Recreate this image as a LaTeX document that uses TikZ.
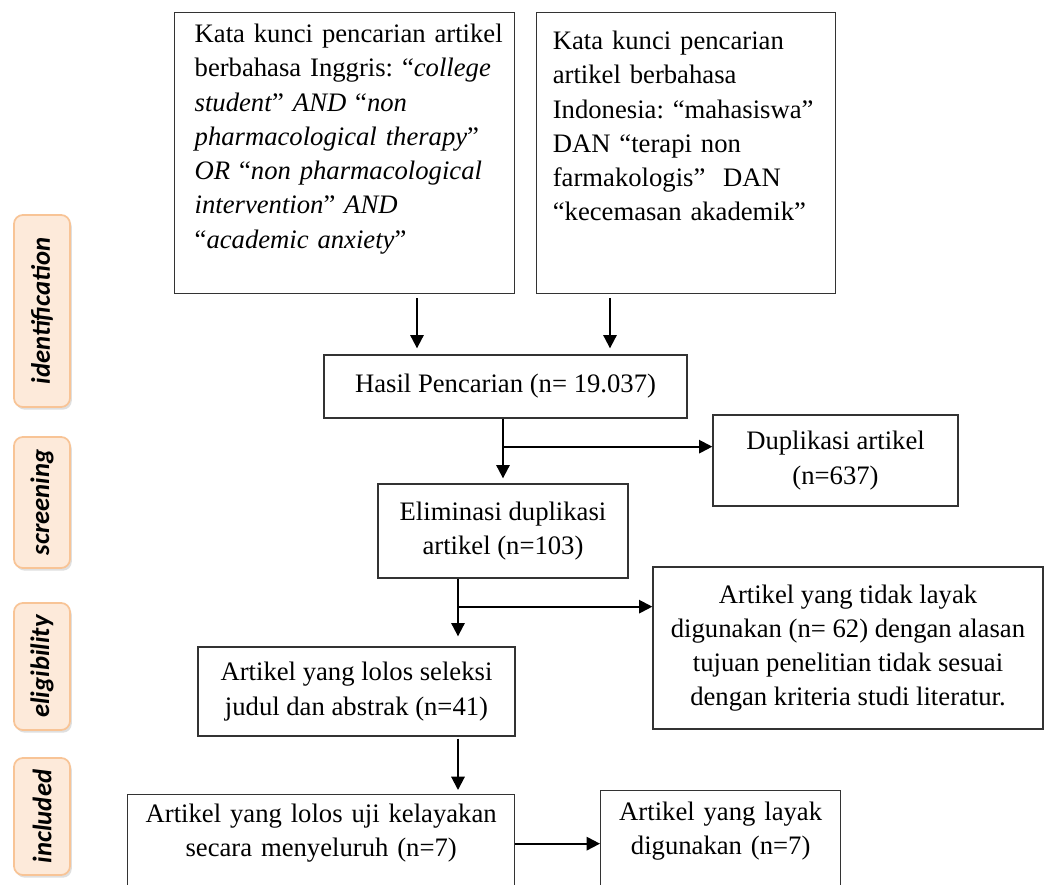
\documentclass[tikz,border=0pt]{standalone}
\usepackage{fontspec}
\setmainfont{Liberation Serif}
\newfontfamily\phasefont{Carlito}
\usetikzlibrary{positioning,arrows.meta,shadows}
\definecolor{phaseline}{RGB}{248,196,150}
\definecolor{phasefill}{RGB}{253,234,218}
\frenchspacing

\begin{document}
\begin{tikzpicture}[
  x=0.45pt, y=-0.45pt,
  box/.style={draw=black!80, line width=0.6pt, inner sep=0pt, align=center,
    font=\fontsize{12pt}{15.4pt}\selectfont},
  kbox/.style={box, anchor=north west, align=left},
  phase/.style={draw=phaseline, fill=phasefill, line width=0.8pt,
    rounded corners=4pt, rotate=90, minimum height=25.2pt, inner sep=0pt,
    font=\phasefont\bfseries\itshape\fontsize{12pt}{14pt}\selectfont,
    drop shadow={shadow xshift=0.8pt, shadow yshift=-1.2pt, opacity=0.25}},
  arr/.style={->, line width=0.9pt},
  >={Triangle[length=6pt,width=6pt]}
]
\useasboundingbox (0,0) rectangle (1046,885);

% PRISMA phases on the left
\node[phase, minimum width=86.4pt] (pid) at (42,311) {identification};
\node[phase, minimum width=58.95pt] (pscr) at (42,502.5) {screening};
\node[phase, minimum width=57.15pt] (pel) at (42,666.5) {eligibility};
\node[phase, minimum width=52.65pt] (pinc) at (42,816.5) {included};

% Search keywords
\node[kbox, text width=135pt, inner xsep=9pt, text height=13.5pt, text depth=112.95pt]
  (kwen) at (174,12)
  {\mbox{Kata kunci pencarian artikel}\\ berbahasa Inggris: ``\textit{college}\\
   \textit{student}'' \textit{AND} ``\textit{non}\\ \textit{pharmacological therapy}''\\
   \textit{OR} ``\textit{non pharmacological}\\ \textit{intervention}'' \textit{AND}\\
   ``\textit{academic anxiety}''};
\node[kbox, text width=120pt, inner xsep=7.275pt, text height=16.65pt, text depth=109.8pt]
  (kwid) at (536,12)
  {Kata kunci pencarian\\ artikel berbahasa\\ Indonesia: ``mahasiswa''\\
   DAN ``terapi non\\ farmakologis''~\ DAN\\ ``kecemasan akademik''};

% Flow boxes
\node[box, minimum width=163.35pt, minimum height=28.35pt] (hasil) at (505.5,386.5)
  {Hasil Pencarian (n= 19.037)};
\node[box, minimum width=110.25pt, minimum height=40.95pt] (dup) at (835.5,460.5)
  {Duplikasi artikel\\ (n=637)};
\node[box, minimum width=112.5pt, minimum height=42.3pt] (elim) at (503,531)
  {Eliminasi duplikasi\\ artikel (n=103)};
\node[box, minimum width=175.5pt, minimum height=72.9pt] (tdk) at (848,648)
  {Artikel yang tidak layak\\ digunakan (n= 62) dengan alasan\\
   tujuan penelitian tidak sesuai\\ dengan kriteria studi literatur.};
\node[box, minimum width=142.65pt, minimum height=40.05pt] (lolos) at (356.5,691.5)
  {Artikel yang lolos seleksi\\ judul dan abstrak (n=41)};
\node[kbox, align=center, text width=162pt, inner xsep=6.075pt, text height=12.6pt,
  text depth=37.35pt] (uji) at (127,794)
  {Artikel yang lolos uji kelayakan\\ secara menyeluruh (n=7)};
\node[kbox, align=center, text width=97.2pt, inner xsep=5.4pt, text height=13.5pt,
  text depth=38.25pt] (layak) at (600,790)
  {Artikel yang layak\\ digunakan (n=7)};

% Connectors
\coordinate (inA) at ([shift={(-88.5,0)}]hasil.north);
\coordinate (inB) at ([shift={(104.5,0)}]hasil.north);
\draw[arr, shorten <=1.8pt, shorten >=2.7pt] (kwen.south -| inA) -- (inA);
\draw[arr, shorten <=1.8pt, shorten >=2.7pt] (kwid.south -| inB) -- (inB);

\path (hasil.south -| elim.north) ++(0,28) coordinate (j1);
\draw[arr, shorten >=2.25pt] (hasil.south -| elim.north) -- (elim.north);
\draw[arr] (j1) -- (j1 -| dup.west);

\path (elim.south) ++(-45,28) coordinate (j2);
\draw[arr, shorten >=4.5pt] (elim.south -| j2) -- (lolos.north -| j2);
\draw[arr] (j2) -- (j2 -| tdk.west);
\draw[arr, shorten <=0.9pt, shorten >=1.8pt] (lolos.south -| j2) -- (uji.north -| j2);

\path (uji.east) ++(0,-6.5) coordinate (j3);
\draw[arr] (j3) -- (j3 -| layak.west);

\end{tikzpicture}
\end{document}
